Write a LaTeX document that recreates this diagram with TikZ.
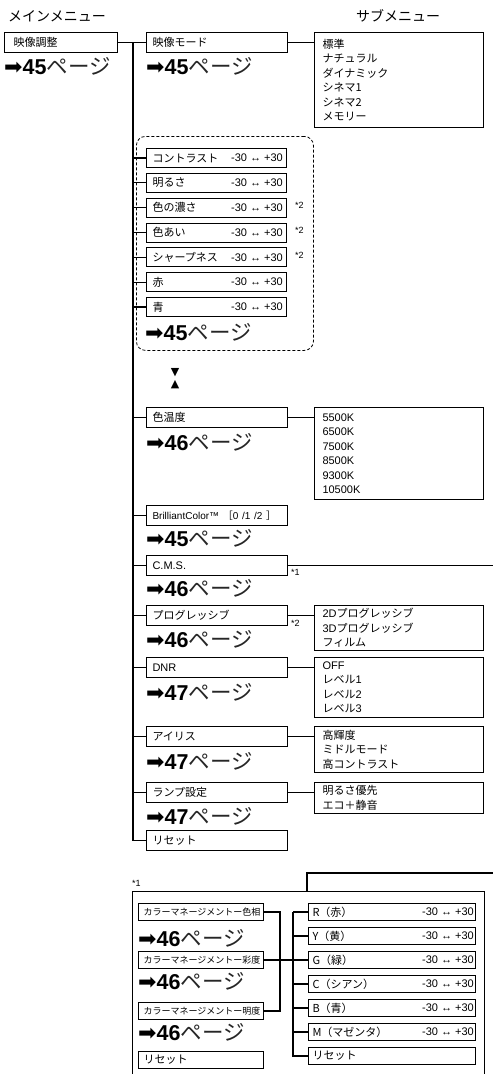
\documentclass[tikz,border=0pt]{standalone}
\usepackage{fontspec}
\setmainfont{Liberation Sans}
\newfontfamily\jp{Noto Sans CJK JP}
\newfontfamily\lat{Liberation Sans}
\newfontfamily\symf{DejaVu Sans}
\newcommand{\pgref}[1]{{\symf\fontsize{22}{22}\selectfont ➡}{\bfseries\fontsize{21.5}{21.5}\selectfont #1}{\jp\fontsize{21.5}{21.5}\selectfont\color{black!85}ページ}}
\newcommand{\rng}{-30 ↔ +30}
\begin{document}
\begin{tikzpicture}[x=1pt,y=-1pt,
  conn/.style={line width=1.1pt},
  jpf/.style={font=\jp\fontsize{11}{13}\selectfont},
  bxA/.style={draw, line width=1pt, anchor=north west, inner ysep=0pt, inner xsep=9pt, text width=95pt, minimum height=20pt, align=left, jpf},
  bxB/.style={draw, line width=1pt, anchor=north west, inner ysep=0pt, inner xsep=6pt, text width=129pt, minimum height=20pt, align=left, jpf},
  bxG/.style={bxB, text width=128pt, minimum height=19pt},
  sub/.style={draw, line width=1pt, anchor=north west, inner ysep=0pt, inner xsep=8pt, text width=153pt, align=left, font=\jp\fontsize{11}{14.5}\selectfont},
  subl/.style={sub, font=\lat\fontsize{11}{14.5}\selectfont},
  val/.style={anchor=east, inner sep=0pt, font=\lat\fontsize{11}{13}\selectfont},
  star/.style={anchor=west, inner sep=0pt, font=\lat\fontsize{9}{10}\selectfont},
  pref/.style={anchor=base west, inner sep=0pt},
  hdr/.style={anchor=west, inner sep=0pt, font=\jp\fontsize{14}{16}\selectfont},
  bxL/.style={draw, line width=1pt, anchor=north west, inner ysep=0pt, inner xsep=5pt, text width=115pt, minimum height=17pt, align=left, font=\jp\fontsize{9}{11}\selectfont},
  bxR/.style={draw, line width=1pt, anchor=north west, inner ysep=0pt, inner xsep=4pt, text width=159pt, minimum height=17pt, align=left, font=\jp\fontsize{11}{13}\selectfont},
  tri/.style={inner sep=0pt, font=\symf\fontsize{11}{11}\selectfont},
]
\useasboundingbox (0,0) rectangle (493,1074);

% headers
\node[hdr] (hmain) at (8,16) {メインメニュー};
\node[hdr] (hsub) at (356,16) {サブメニュー};

% main menu
\node[bxA] (c1) at (4,32) {映像調整};
\node[pref] (c1p) at (4,74) {\pgref{45}};

% column 2
\node[bxB] (m1) at (146,32) {映像モード};
\node[pref] (m1p) at (146,74) {\pgref{45}};
\node[sub, minimum height=95pt] (s1) at (314,32) {標準\\ナチュラル\\ダイナミック\\シネマ1\\シネマ2\\メモリー};

% dashed group
\node[draw, line width=0.8pt, dash pattern=on 3pt off 2pt, rounded corners=9pt, anchor=north west, minimum width=177pt, minimum height=214pt, inner sep=0pt] (grp) at (136,136) {};
\node[bxG] (g1) at (146,148) {コントラスト};
\node[bxG] (g2) at (146,172.8) {明るさ};
\node[bxG] (g3) at (146,197.7) {色の濃さ};
\node[bxG] (g4) at (146,222.5) {色あい};
\node[bxG] (g5) at (146,247.3) {シャープネス};
\node[bxG] (g6) at (146,272.2) {赤};
\node[bxG] (g7) at (146,297) {青};
\foreach \g in {g1,g2,g3,g4,g5,g6,g7}{
  \node[val] (\g v) at ([xshift=-4pt]\g.east) {\rng};
}
\node[star] (g3s) at ([xshift=8pt,yshift=2pt]g3.east) {*2};
\node[star] (g4s) at ([xshift=8pt,yshift=2pt]g4.east) {*2};
\node[star] (g5s) at ([xshift=8pt,yshift=2pt]g5.east) {*2};
\node[pref] (gp) at (145,340) {\pgref{45}};

% triangles
\node[tri] (tdown) at (175,373) {▼};
\node[tri] (tup) at (175,385) {▲};

% colour temperature
\node[bxB] (m4) at (146,407) {色温度};
\node[pref] (m4p) at (146,450) {\pgref{46}};
\node[subl, minimum height=92pt] (s4) at (314,407) {5500K\\6500K\\7500K\\8500K\\9300K\\10500K};

% BrilliantColor
\node[bxB] (m5) at (146,505) {{\lat\fontsize{10}{12}\selectfont BrilliantColor™ }{\fontsize{10}{12}\selectfont ［}{\lat\fontsize{10}{12}\selectfont 0 /1 /2 }{\fontsize{10}{12}\selectfont ］}};
\node[pref] (m5p) at (146,546) {\pgref{45}};

% C.M.S.
\node[bxB] (m6) at (146,555) {{\lat C.M.S.}};
\node[pref] (m6p) at (146,596) {\pgref{46}};
\node[star] (m6s) at ([xshift=3pt,yshift=-6.5pt]m6.east) {*1};

% progressive
\node[bxB] (m7) at (146,605) {プログレッシブ};
\node[pref] (m7p) at (146,647) {\pgref{46}};
\node[sub, minimum height=45pt] (s7) at (314,605) {{\lat 2D}プログレッシブ\\{\lat 3D}プログレッシブ\\フィルム};
\node[star] (m7s) at ([xshift=3pt,yshift=-8pt]m7.east) {*2};

% DNR
\node[bxB] (m8) at (146,657) {{\lat DNR}};
\node[pref] (m8p) at (146,700) {\pgref{47}};
\node[sub, minimum height=60pt] (s8) at (314,657) {{\lat OFF}\\レベル{\lat 1}\\レベル{\lat 2}\\レベル{\lat 3}};

% iris
\node[bxB] (m9) at (146,726) {アイリス};
\node[pref] (m9p) at (146,769) {\pgref{47}};
\node[sub, minimum height=46pt] (s9) at (314,726) {高輝度\\ミドルモード\\高コントラスト};

% lamp
\node[bxB] (m10) at (146,782) {ランプ設定};
\node[pref] (m10p) at (146,824) {\pgref{47}};
\node[sub, minimum height=31pt] (s10) at (314,782) {明るさ優先\\エコ＋静音};

% reset
\node[bxB] (m11) at (146,830) {リセット};

% main connectors
\coordinate (busTop) at (133,42);
\draw[conn] (c1.east) -- (m1.west);
\draw[conn] (busTop) |- (m11.west);
\foreach \n in {g1,g2,g3,g4,g5,g6,g7,m4,m5,m6,m7,m8,m9,m10}{
  \draw[conn] (busTop |- \n.west) -- (\n.west);
}
\foreach \a/\b in {m1/s1,m4/s4,m7/s7,m8/s8,m9/s9,m10/s10}{
  \draw[conn] (\a.east) -- (\a.east -| \b.west);
}
\coordinate (cmsEnd) at (493,560);
\draw[conn] (m6.east) -- (m6.east -| cmsEnd);

% ---------- bottom section ----------
\node[star] (n1) at (132,883) {*1};
\coordinate (oBL) at (132,1074);
\coordinate (oTR) at (484,891);
\coordinate (oBR) at (484,1074);
\draw[line width=1pt] (oBL) |- (oTR) -- (oBR);
\coordinate (oTop) at (307,891);
\coordinate (oEnd) at (493,873);
\draw[conn] (oTop) |- (oEnd);

\node[bxL] (L1) at (138,903) {カラーマネージメントー色相};
\node[pref] (L1p) at (138,946) {\pgref{46}};
\node[bxL] (L2) at (138,951) {カラーマネージメントー彩度};
\node[pref] (L2p) at (138,989) {\pgref{46}};
\node[bxL] (L3) at (138,1002) {カラーマネージメントー明度};
\node[pref] (L3p) at (138,1040) {\pgref{46}};
\node[bxL, font=\jp\fontsize{11}{13}\selectfont] (L4) at (138,1051) {リセット};

\node[bxR] (R1) at (308,903) {R（赤）};
\node[bxR] (R2) at (308,927) {Y（黄）};
\node[bxR] (R3) at (308,951) {G（緑）};
\node[bxR] (R4) at (308,975) {C（シアン）};
\node[bxR] (R5) at (308,999) {B（青）};
\node[bxR] (R6) at (308,1023) {M（マゼンタ）};
\node[bxR] (R7) at (308,1047) {リセット};
\foreach \r in {R1,R2,R3,R4,R5,R6}{
  \node[val] (\r v) at ([xshift=-2pt]\r.east) {\rng};
}

\coordinate (brkx) at (280,900);
\coordinate (rbus) at (293,900);
\draw[conn] (L1.east) -- (L1.east -| brkx) |- (L3.east);
\draw[conn] (L2.east) -- (R3.west);
\draw[conn] (R1.west -| rbus) |- (R7.west);
\foreach \r in {R1,R2,R4,R5,R6}{
  \draw[conn] (\r.west -| rbus) -- (\r.west);
}
\end{tikzpicture}
\end{document}
